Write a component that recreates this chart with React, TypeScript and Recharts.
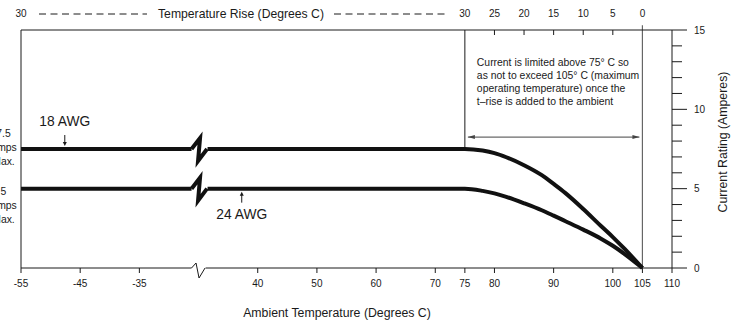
import React from 'react'
import { LineChart, Line, XAxis, YAxis, ReferenceLine, ReferenceDot } from 'recharts'

// ambient temperature (deg C) and current rating (A)
const ambientTemps = [-55, 75, 78, 80, 82, 85, 88, 90, 92, 95, 98, 100, 102, 105]
const awg18Amps = [7.5, 7.5, 7.4, 7.24, 6.98, 6.48, 5.85, 5.3, 4.72, 3.72, 2.65, 1.95, 1.2, 0]
const awg24Amps = [5, 5, 4.86, 4.7, 4.48, 4.08, 3.64, 3.3, 2.95, 2.42, 1.85, 1.4, 0.88, 0]

const ambientTicks = [-55, -45, -35, 40, 50, 60, 70, 75, 80, 90, 100, 105, 110]
const ambientLabels = ['-55', '-45', '-35', '40', '50', '60', '70', '75', '80', '90', '100', '105', '110']

const riseTicks = [-55, 75, 80, 85, 90, 95, 100, 105]
const riseLabels = ['30', '30', '25', '20', '15', '10', '5', '0']

const ampTicks = [0, 1, 2, 3, 4, 5, 6, 7, 8, 9, 10, 11, 12, 13, 14, 15]
const ampLabels = ['0', '', '', '', '', '5', '', '', '', '', '10', '', '', '', '', '15']

const noteLines = [
  'Current is limited above 75\u00b0 C so',
  'as not to exceed 105\u00b0 C (maximum',
  'operating temperature) once the',
  't\u2013rise is added to the ambient',
]

// the axis is broken between -35 and 40, so cold temperatures are shifted right
const toU = (t: number) => (t < 0 ? t + 55 : t)
const breakU = 30

const data = ambientTemps.map((t, i) => ({ u: toU(t), awg18: awg18Amps[i], awg24: awg24Amps[i] }))

const font = '"Liberation Sans", Arial, Helvetica, sans-serif'
const ink = '#1a1a1a'

function RiseTick(props: any) {
  const { x, y, index } = props
  const mark = index > 1 && index < riseTicks.length - 1
  return (
    <g>
      <text x={x} y={y} textAnchor="middle" fontSize={10} fontFamily={font} fill={ink}>
        {riseLabels[index]}
      </text>
      {mark && <line x1={x} y1={y + 13} x2={x} y2={y + 18} stroke={ink} />}
    </g>
  )
}

function AmpTick(props: any) {
  const { x, y, index } = props
  const label = ampLabels[index]
  const major = label !== ''
  return (
    <g>
      <line x1={x} y1={y} x2={x + (major ? 15 : 10)} y2={y} stroke={ink} />
      {major && (
        <text x={x + 22} y={y + 3.5} fontSize={10} fontFamily={font} fill={ink}>
          {label}
        </text>
      )}
    </g>
  )
}

function AmbientTick(props: any) {
  const { x, y, index } = props
  return (
    <text x={x} y={y + 6.5} textAnchor="middle" fontSize={10} fontFamily={font} fill={ink}>
      {ambientLabels[index]}
    </text>
  )
}

function RiseTitle(props: any) {
  const { x } = props.viewBox
  return (
    <g fontFamily={font}>
      <line x1={x + 18} y1={14} x2={x + 126} y2={14} stroke={ink} strokeDasharray="7 4.5" />
      <text x={x + 220} y={18} textAnchor="middle" fontSize={12.2} fill={ink}>
        Temperature Rise (Degrees C)
      </text>
      <line x1={x + 313} y1={14} x2={x + 424} y2={14} stroke={ink} strokeDasharray="7 4.5" />
    </g>
  )
}

function AmbientTitle(props: any) {
  const { x, y } = props.viewBox
  return (
    <text x={x + 316} y={y + 49} textAnchor="middle" fontSize={12.3} fontFamily={font} fill={ink}>
      Ambient Temperature (Degrees C)
    </text>
  )
}

function AmpTitle(props: any) {
  const { x } = props.viewBox
  const cx = x + 51
  const cy = 142
  return (
    <text
      x={cx}
      y={cy}
      textAnchor="middle"
      dominantBaseline="central"
      transform={`rotate(-90 ${cx} ${cy})`}
      fontSize={12.3}
      fontFamily={font}
      fill={ink}
    >
      Current Rating (Amperes)
    </text>
  )
}

function LineBreak(props: any) {
  const { cx, cy } = props
  return (
    <g>
      <rect x={cx - 7} y={cy - 3} width={16} height={6} fill="#fff" />
      <path
        d={`M${cx - 7},${cy} L${cx + 1.5},${cy - 11} L${cx - 0.5},${cy + 12} L${cx + 8.5},${cy}`}
        stroke="#111"
        strokeWidth={4}
        fill="none"
      />
    </g>
  )
}

function AxisBreak(props: any) {
  const { cx, cy } = props
  return (
    <g>
      <rect x={cx - 7} y={cy - 1.5} width={14} height={3} fill="#fff" />
      <path
        d={`M${cx - 7},${cy} L${cx - 2.5},${cy - 5} L${cx + 0.5},${cy + 10} L${cx + 6.5},${cy}`}
        stroke={ink}
        strokeWidth={1}
        fill="none"
      />
    </g>
  )
}

function SideLabel(props: any) {
  const { cx, cy, lines, top } = props
  return (
    <g fontFamily={font} fontSize={10.4} fill={ink}>
      {lines.map((s: string, i: number) => (
        <text key={i} x={cx - 17.5} y={cy + top + i * 14} textAnchor="middle">
          {s}
        </text>
      ))}
    </g>
  )
}

function WireLabel(props: any) {
  const { cx, cy, text, below } = props
  const dir = below ? 1 : -1
  const tipY = cy + dir * 3
  const tailY = cy + dir * 14
  return (
    <g>
      <line x1={cx} y1={tailY} x2={cx} y2={tipY + dir * 3} stroke={ink} />
      <path d={`M${cx - 2},${tipY + dir * 4} L${cx},${tipY} L${cx + 2},${tipY + dir * 4} Z`} fill={ink} />
      <text
        x={cx}
        y={below ? cy + 30.5 : cy - 23.5}
        textAnchor="middle"
        fontSize={13.8}
        fontFamily={font}
        fill={ink}
      >
        {text}
      </text>
    </g>
  )
}

function Note(props: any) {
  const { cx, cy } = props
  return (
    <g fontFamily={font} fontSize={10.4} fill={ink}>
      {noteLines.map((s, i) => (
        <text key={i} x={cx + 12} y={cy + i * 13.1}>
          {s}
        </text>
      ))}
    </g>
  )
}

function SpanArrow(props: any) {
  const { x1, y1, x2 } = props
  const a = x1 + 3
  const b = x2 - 3
  return (
    <g>
      <line x1={a} y1={y1} x2={b} y2={y1} stroke="#444" />
      <path d={`M${a},${y1} L${a + 7},${y1 - 2} L${a + 7},${y1 + 2} Z`} fill="#444" />
      <path d={`M${b},${y1} L${b - 7},${y1 - 2} L${b - 7},${y1 + 2} Z`} fill="#444" />
    </g>
  )
}

export default function App() {
  return (
    <div style={{ position: 'absolute', left: 0, top: 0, background: '#fff' }}>
      <LineChart width={733} height={323} data={data} margin={{ top: 0, right: 0, bottom: 0, left: 0 }}>
        <XAxis
          xAxisId="top"
          orientation="top"
          dataKey="u"
          type="number"
          domain={[0, 110]}
          ticks={riseTicks.map(toU)}
          tick={<RiseTick />}
          tickLine={false}
          tickSize={0}
          tickMargin={13}
          height={30}
          axisLine={{ stroke: ink }}
          interval={0}
          label={{ content: <RiseTitle /> }}
        />
        <XAxis
          xAxisId="bottom"
          dataKey="u"
          type="number"
          domain={[0, 110]}
          ticks={ambientTicks.map(toU)}
          tick={<AmbientTick />}
          tickSize={5}
          tickMargin={7}
          tickLine={{ stroke: ink }}
          height={55}
          axisLine={{ stroke: ink }}
          interval={0}
          label={{ content: <AmbientTitle /> }}
        />
        <YAxis
          yAxisId="left"
          domain={[0, 15]}
          width={21}
          tick={false}
          tickLine={false}
          axisLine={{ stroke: ink }}
        />
        <YAxis
          yAxisId="right"
          orientation="right"
          type="number"
          domain={[0, 15]}
          ticks={ampTicks}
          tick={<AmpTick />}
          tickLine={false}
          tickSize={0}
          tickMargin={0}
          interval={0}
          width={61}
          axisLine={{ stroke: ink }}
          label={{ content: <AmpTitle /> }}
        />

        <ReferenceLine
          xAxisId="bottom"
          yAxisId="left"
          segment={[{ x: 75, y: 7.5 }, { x: 75, y: 15 }]}
          stroke={ink}
        />
        <ReferenceLine
          xAxisId="bottom"
          yAxisId="left"
          segment={[{ x: 105, y: 0 }, { x: 105, y: 15.3 }]}
          stroke="#666"
          strokeWidth={1.2}
          ifOverflow="visible"
        />
        <ReferenceLine
          xAxisId="bottom"
          yAxisId="left"
          segment={[{ x: 75, y: 8.25 }, { x: 105, y: 8.25 }]}
          shape={<SpanArrow />}
        />

        <Line
          xAxisId="bottom"
          yAxisId="left"
          type="monotone"
          dataKey="awg18"
          stroke="#111"
          strokeWidth={4}
          dot={false}
          isAnimationActive={false}
        />
        <Line
          xAxisId="bottom"
          yAxisId="right"
          type="monotone"
          dataKey="awg24"
          stroke="#111"
          strokeWidth={4}
          dot={false}
          isAnimationActive={false}
        />

        <ReferenceDot xAxisId="bottom" yAxisId="left" x={breakU} y={7.5} shape={<LineBreak />} zIndex={1500} />
        <ReferenceDot xAxisId="bottom" yAxisId="left" x={breakU} y={5} shape={<LineBreak />} zIndex={1500} />
        <ReferenceDot xAxisId="bottom" yAxisId="left" x={breakU} y={0} shape={<AxisBreak />} zIndex={1500} ifOverflow="visible" />
        <ReferenceDot xAxisId="bottom" yAxisId="left" x={toU(-55)} y={7.5} shape={<SideLabel lines={['7.5', 'Amps', 'Max.']} top={-12} />} ifOverflow="visible" />
        <ReferenceDot xAxisId="bottom" yAxisId="left" x={toU(-55)} y={5} shape={<SideLabel lines={['5', 'Amps', 'Max.']} top={6.5} />} ifOverflow="visible" />
        <ReferenceDot xAxisId="bottom" yAxisId="left" x={toU(-47.6)} y={7.5} shape={<WireLabel text="18 AWG" />} />
        <ReferenceDot xAxisId="bottom" yAxisId="left" x={37.3} y={5} shape={<WireLabel text="24 AWG" below />} />
        <ReferenceDot xAxisId="bottom" yAxisId="left" x={75} y={12.75} shape={<Note />} />
      </LineChart>
    </div>
  )
}
